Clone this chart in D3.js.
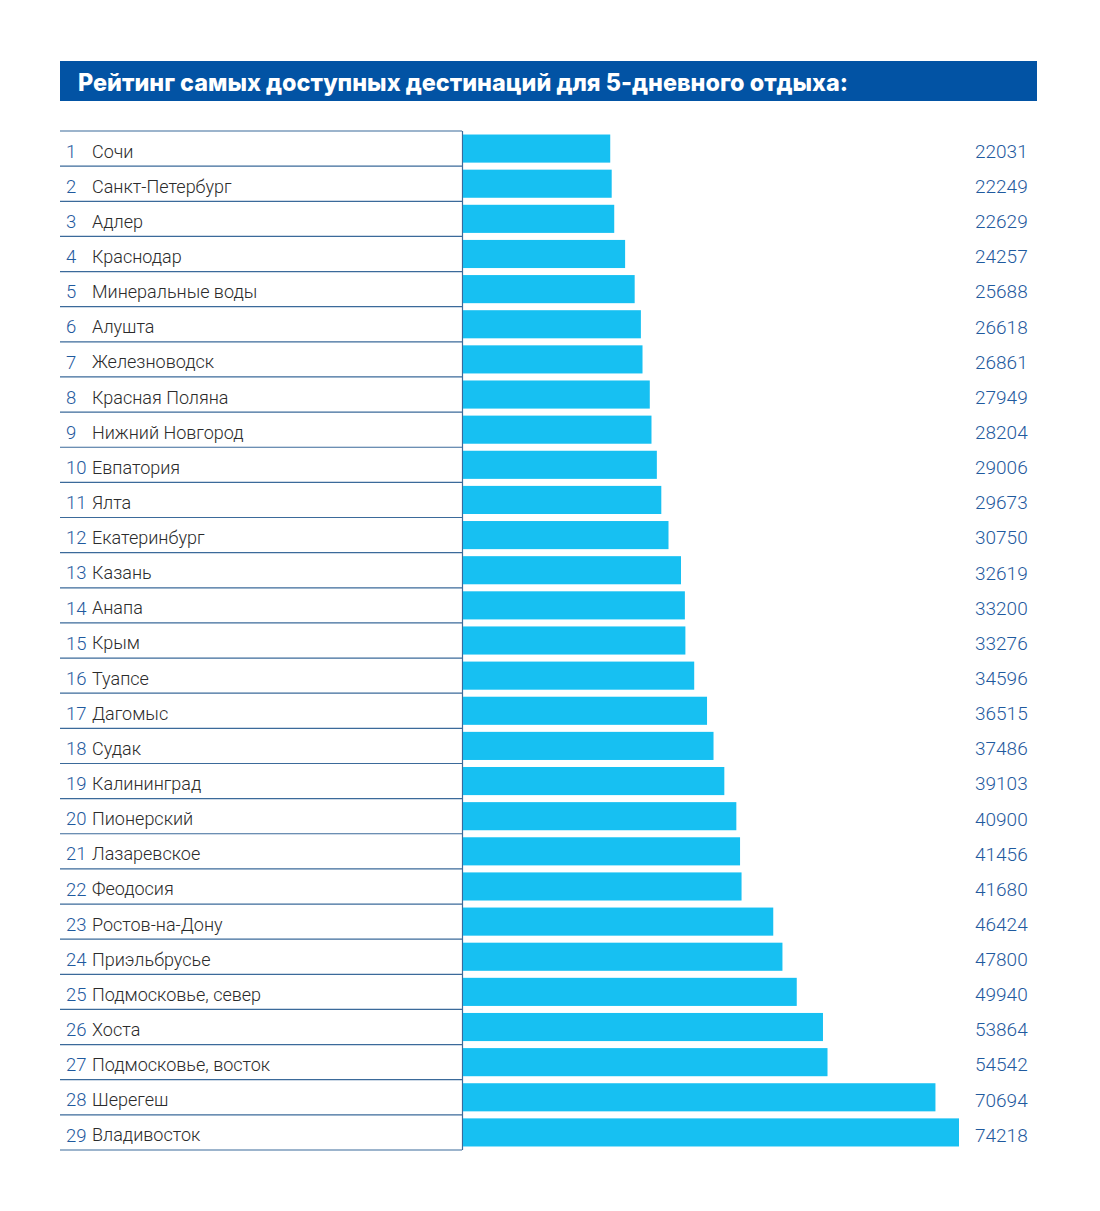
<!DOCTYPE html>
<html><head><meta charset="utf-8">
<script src="https://cdn.jsdelivr.net/npm/d3@7"></script>
<style>body{margin:0;background:#fff;}svg{display:block;font-family:Roboto,"Noto Sans",sans-serif;}</style>
</head><body>
<svg id="c" width="1100" height="1211"></svg>
<script>
const title = "Рейтинг самых доступных дестинаций для 5-дневного отдыха:";
const cities = ["Сочи","Санкт-Петербург","Адлер","Краснодар","Минеральные воды","Алушта","Железноводск","Красная Поляна","Нижний Новгород","Евпатория","Ялта","Екатеринбург","Казань","Анапа","Крым","Туапсе","Дагомыс","Судак","Калининград","Пионерский","Лазаревское","Феодосия","Ростов-на-Дону","Приэльбрусье","Подмосковье, север","Хоста","Подмосковье, восток","Шерегеш","Владивосток"];
const values = [22031,22249,22629,24257,25688,26618,26861,27949,28204,29006,29673,30750,32619,33200,33276,34596,36515,37486,39103,40900,41456,41680,46424,47800,49940,53864,54542,70694,74218];
const ranks = cities.map((d,i)=>String(i+1));

const svg = d3.select("#c");
svg.append("rect").attr("x",60).attr("y",61).attr("width",977).attr("height",40).attr("fill","#0253a4");
svg.append("text").attr("x",78).attr("y",91).attr("fill","#fff").attr("font-size",24)
  .attr("font-family","Inter, Roboto, sans-serif").attr("font-weight",800)
  .attr("textLength",770).attr("lengthAdjust","spacingAndGlyphs").text(title);

const tableTop = 131, tableBottom = 1150;
const y = d3.scaleBand().domain(ranks).range([tableTop,tableBottom]).paddingInner(0.2).paddingOuter(0.1);
const x = d3.scaleLinear().domain([0,74218]).range([463,959]);
const rowH = (tableBottom-tableTop)/ranks.length;

const g = svg.append("g");
g.selectAll("line.sep").data(d3.range(ranks.length+1)).join("line")
  .attr("x1",60).attr("x2",462)
  .attr("y1",i=>tableTop+i*rowH).attr("y2",i=>tableTop+i*rowH)
  .attr("stroke","#3b6a9a").attr("stroke-width",1.2);
g.append("line").attr("x1",462.5).attr("x2",462.5).attr("y1",tableTop).attr("y2",tableBottom).attr("stroke","#3b6a9a").attr("stroke-width",1.2);

g.selectAll("rect.bar").data(values).join("rect")
  .attr("x",x(0)).attr("y",(d,i)=>y(ranks[i]))
  .attr("width",d=>x(d)-x(0)).attr("height",y.bandwidth())
  .attr("fill","#17c0f2");

const cy = i => y(ranks[i]) + y.bandwidth()/2 + 2.5;
g.selectAll("text.rank").data(ranks).join("text")
  .attr("x",66).attr("y",(d,i)=>cy(i)).attr("dy","0.36em")
  .attr("font-size",18.5).attr("font-weight",300).attr("fill","#1f5a9e").text(d=>d);
g.selectAll("text.name").data(cities).join("text")
  .attr("x",92).attr("y",(d,i)=>cy(i)).attr("dy","0.36em")
  .attr("font-size",18).attr("font-weight",300).attr("fill","#2b2b2b").text(d=>d);
g.selectAll("text.val").data(values).join("text")
  .attr("x",975).attr("y",(d,i)=>cy(i)).attr("dy","0.36em")
  .attr("font-size",19).attr("font-weight",300).attr("fill","#1f5a9e").text(d=>d);
</script>
</body></html>
